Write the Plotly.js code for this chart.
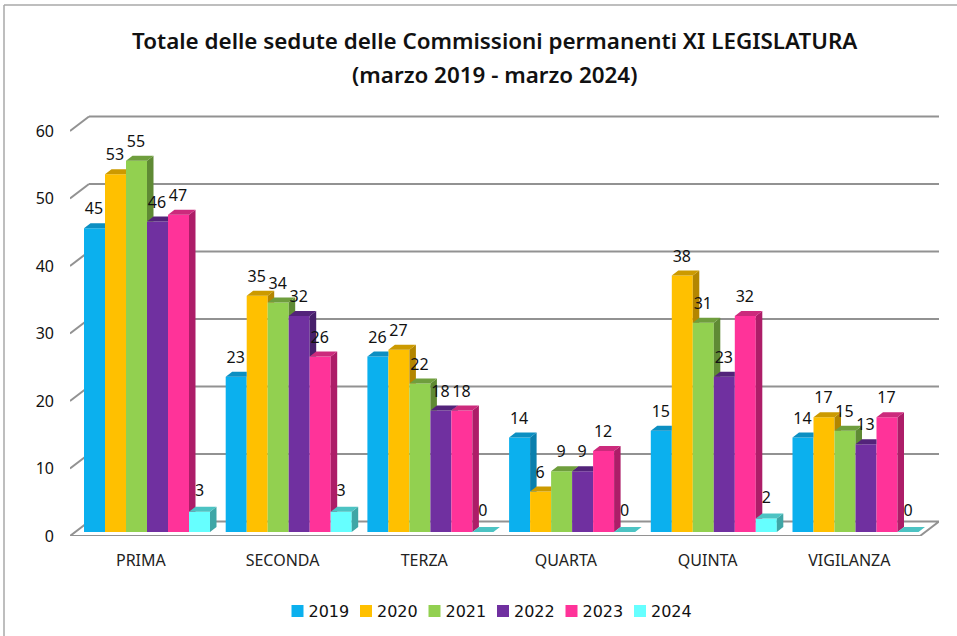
<!DOCTYPE html>
<html>
<head>
<meta charset="utf-8">
<script src="https://cdn.plot.ly/plotly-3.0.1.min.js"></script>
<style>html,body{margin:0;padding:0;background:#fff}#c{width:957px;height:636px}</style>
</head>
<body>
<div id="c"></div>
<script>
var categories = ["PRIMA","SECONDA","TERZA","QUARTA","QUINTA","VIGILANZA"];
var years = ["2019","2020","2021","2022","2023","2024"];
var v2019 = [45,23,26,14,15,14];
var v2020 = [53,35,27,6,38,17];
var v2021 = [55,34,22,9,31,15];
var v2022 = [46,32,18,9,23,13];
var v2023 = [47,26,18,12,32,17];
var v2024 = [3,3,0,0,2,0];
var seriesValues = [v2019,v2020,v2021,v2022,v2023,v2024];
var frontColors = ["#0BB0EE","#FFC000","#92D050","#7030A0","#FF3399","#66FFFF"];
var topColors = ["#0C8FC2","#CC9A00","#6F9E3D","#53237A","#CC2A7C","#4CC3C3"];
var sideColors = ["#0A7FAD","#B38600","#5F8A34","#47206B","#AD1D68","#3FA6A6"];
var yTicks = [0,10,20,30,40,50,60];

var PX_CAT = 141.7, PX_VAL = 6.75;
var L = 70, R = 939, FLOOR = 536, TOP = 115;
var xMax = (R-L)/PX_CAT, yMax = (FLOOR-TOP)/PX_VAL;
function xu(p){return p/PX_CAT;} function yu(p){return p/PX_VAL;}
var barW = xu(21), barStart = xu(14), barBase = yu(4);
var dX = xu(6.5), dY = yu(5);
var wallX = xu(19), wallY = yu(14.5);

var traces = [];
seriesValues.forEach(function(vals,s){
  traces.push({type:"bar",name:years[s],
    x:categories.map(function(c,i){return i+barStart+barW*(s+0.5);}),
    y:vals,base:categories.map(function(){return barBase;}),width:barW,
    marker:{color:frontColors[s],line:{width:0}},hoverinfo:"y+name"});
});
seriesValues.forEach(function(vals,s){
  var sx=[],sy=[],tx=[],ty=[];
  vals.forEach(function(v,i){
    var xl=i+barStart+barW*s, xr=xl+barW, top=barBase+v;
    var hasNext=s<seriesValues.length-1;
    var nt=hasNext?barBase+seriesValues[s+1][i]:barBase;
    if(nt<top+dY){
      sx.push(xr,xr+dX,xr+dX,xr,null);
      sy.push(Math.max(barBase,nt),Math.max(barBase+dY,nt),top+dY,top,null);
    }
    if(hasNext&&nt>top){
      tx.push(xl,xr,xr,xl+dX,null); ty.push(top,top,top+dY,top+dY,null);
    }else{
      tx.push(xl,xr,xr+dX,xl+dX,null); ty.push(top,top,top+dY,top+dY,null);
    }
  });
  traces.push({type:"scatter",mode:"lines",x:sx,y:sy,fill:"toself",fillcolor:sideColors[s],line:{width:0},showlegend:false,hoverinfo:"skip"});
  traces.push({type:"scatter",mode:"lines",x:tx,y:ty,fill:"toself",fillcolor:topColors[s],line:{width:0},showlegend:false,hoverinfo:"skip"});
});
seriesValues.forEach(function(vals,s){
  traces.push({type:"scatter",mode:"text",showlegend:false,hoverinfo:"skip",
    x:vals.map(function(v,i){return i+barStart+barW*(s+0.5)+xu(s===5?0:-0.5);}),
    y:vals.map(function(v){return barBase+v+yu(s===5?20:18);}),
    text:vals.map(String),textposition:"middle center",
    textfont:{family:"Noto Sans, sans-serif",size:16,color:"#111"}});
});

var gridColor="#929292";
var shapes=[];
yTicks.forEach(function(t){
  if(t>0){
    shapes.push({type:"line",layer:"below",xref:"x",yref:"y",x0:0,y0:t,x1:wallX,y1:t+wallY,line:{color:gridColor,width:2}});
    shapes.push({type:"line",layer:"below",xref:"x",yref:"y",x0:wallX,y0:t+wallY,x1:xMax,y1:t+wallY,line:{color:gridColor,width:2}});
  }
});
shapes.push({type:"path",layer:"below",xref:"x",yref:"y",
  path:"M0,0 L"+wallX+","+wallY+" L"+xMax+","+wallY+" L"+(xMax-wallX)+",0 Z",
  line:{color:gridColor,width:2},fillcolor:"#FFFFFF"});
var pw=R-L, ph=FLOOR-TOP;
shapes.push({type:"line",layer:"below",xref:"paper",yref:"paper",x0:(4-L)/pw,x1:(4-L)/pw,y0:(FLOOR-636)/ph,y1:(FLOOR-5)/ph,line:{color:"#A8A8A8",width:1.5}});
shapes.push({type:"line",layer:"below",xref:"paper",yref:"paper",x0:(4-L)/pw,x1:(957-L)/pw,y0:(FLOOR-5)/ph,y1:(FLOOR-5)/ph,line:{color:"#A8A8A8",width:1.5}});

var f='<span style="font-size:22.4px">';
var layout={
  width:957,height:636,paper_bgcolor:"#fff",plot_bgcolor:"rgba(0,0,0,0)",
  margin:{l:L,r:957-R,t:TOP,b:636-FLOOR,pad:0,autoexpand:false},
  barmode:"overlay",
  title:{text:f+"Totale delle sedute delle Commissioni permanenti XI LEGISLATURA</span><br>"+f+"(marzo 2019 - marzo 2024)</span>",
    font:{family:"Noto Sans, sans-serif",size:26,color:"#111",weight:600},x:0.517,xanchor:"center",y:0.923,yanchor:"top"},
  xaxis:{range:[0,xMax],tickmode:"array",tickvals:categories.map(function(c,i){return i+0.5;}),ticktext:categories,
    showgrid:false,zeroline:false,showline:false,ticks:"",ticklabelstandoff:13,
    tickfont:{family:"Noto Sans, sans-serif",size:16,color:"#222"}},
  yaxis:{range:[0,yMax],tickmode:"array",tickvals:yTicks,showgrid:false,zeroline:false,showline:false,ticks:"",ticklabelstandoff:15,
    tickfont:{family:"Noto Sans, sans-serif",size:16,color:"#111"}},
  legend:{orientation:"h",x:0.4649,xanchor:"center",y:-0.138,yanchor:"top",traceorder:"normal",entrywidth:23.5,entrywidthmode:"pixels",
    font:{family:"DejaVu Sans, sans-serif",size:16,color:"#111"}},
  shapes:shapes,showlegend:true
};
Plotly.newPlot("c",traces,layout,{displayModeBar:false,staticPlot:true}).then(function(){
  document.querySelectorAll("#c .legend .legendsymbols").forEach(function(g){
    g.setAttribute("transform","translate(9,0) "+(g.getAttribute("transform")||""));
  });
  document.querySelectorAll("#c .legend .scrollbox, #c .legend").forEach(function(g){
    g.removeAttribute("clip-path");
    g.style.clipPath="none";
  });
});
</script>
</body>
</html>
